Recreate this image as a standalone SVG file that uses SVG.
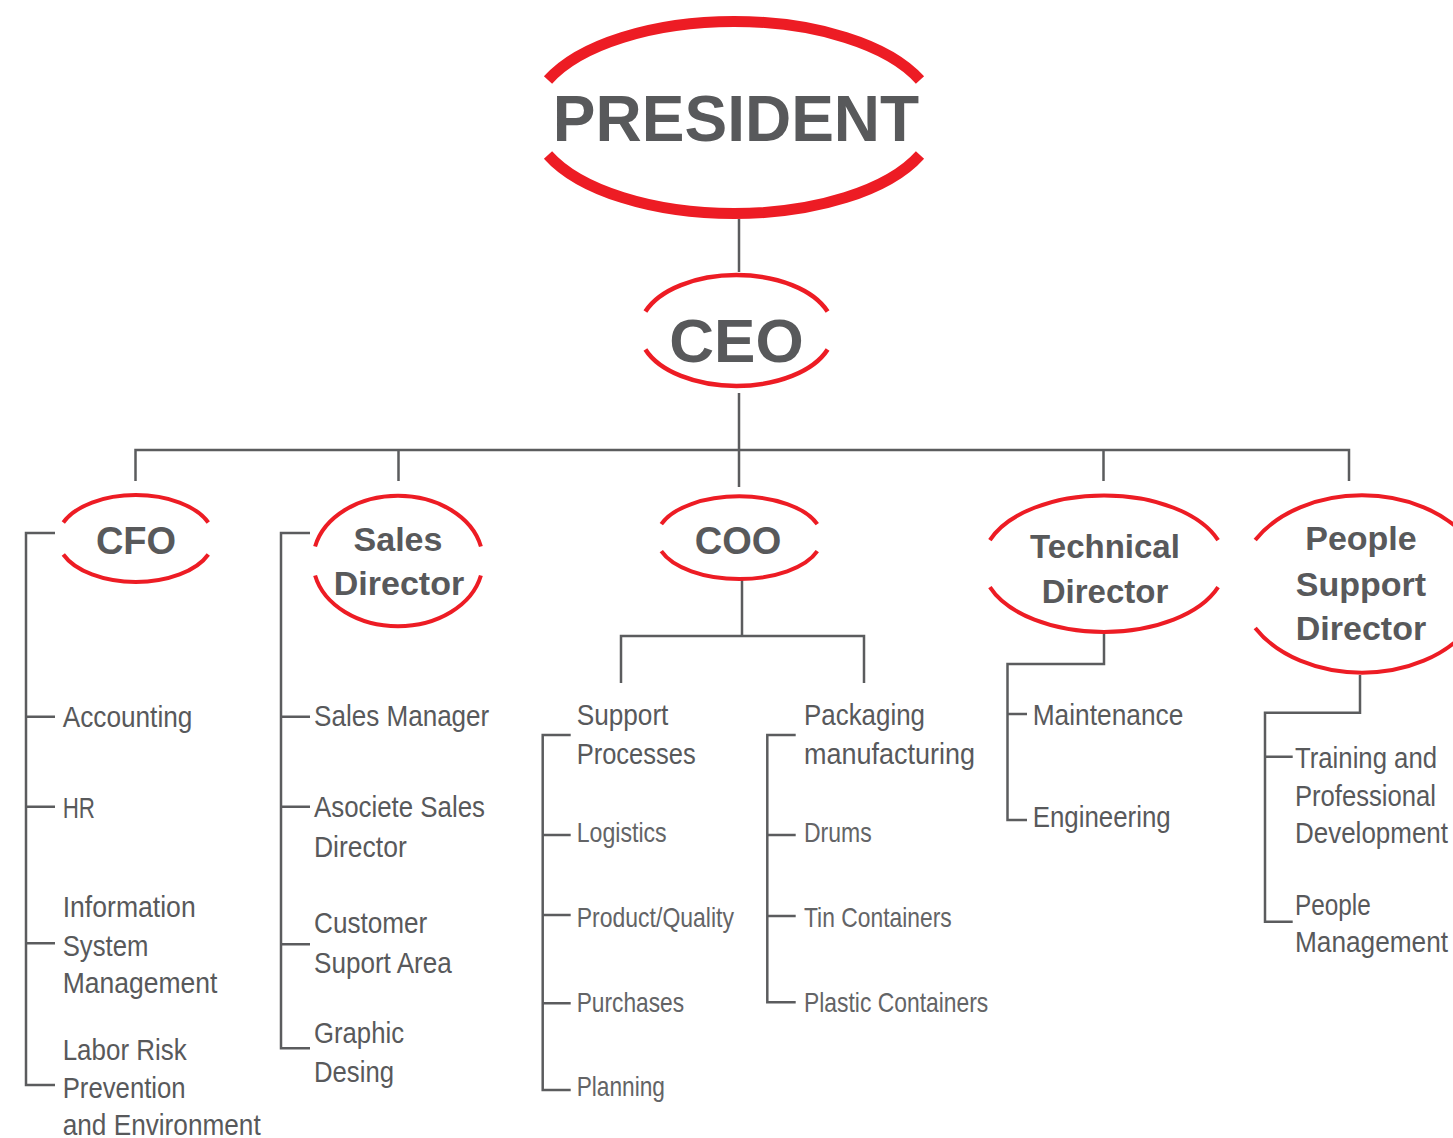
<svg xmlns="http://www.w3.org/2000/svg" width="1453" height="1138" viewBox="0 0 1453 1138">
<style>
.arc{fill:none;stroke:#ed1c24;stroke-linecap:butt}
.ln{fill:none;stroke:#5b5c5e;stroke-width:2.5}
.t{font-family:"Liberation Sans",Arial,sans-serif;font-weight:bold;fill:#58595b;text-anchor:middle}
.l{font-family:"Liberation Sans",Arial,sans-serif;font-size:30px;fill:#58595b}
.s{font-family:"Liberation Sans",Arial,sans-serif;font-size:28px;fill:#636466}
</style>
<rect width="1453" height="1138" fill="#ffffff"/>
<g id="connectors">
<path class="ln" d="M739,219 V272 M739,393 V487 M135.5,481 V450 H1349 V481 M398.5,450 V481 M1103.5,450 V481"/>
<path class="ln" d="M742,580 V636 M621,683 V636 H864 V683"/>
<path class="ln" d="M55,533 H26 V1085 H55 M26,716.7 H55 M26,806.7 H55 M26,943.3 H55"/>
<path class="ln" d="M310,533 H281 V1048.3 H310 M281,716.7 H310 M281,806.7 H310 M281,944.3 H310"/>
<path class="ln" d="M570.7,735 H542.7 V1090 H570.7 M542.7,835 H570.7 M542.7,915 H570.7 M542.7,1003.3 H570.7"/>
<path class="ln" d="M795.7,735 H767.3 V1002.3 H795.7 M767.3,835 H795.7 M767.3,916 H795.7"/>
<path class="ln" d="M1104,634 V664 H1007.5 V820 H1027 M1007.5,714 H1027"/>
<path class="ln" d="M1360,675 V712.7 H1265 V921.7 H1292.7 M1265,756.7 H1292.7"/>
</g>
<g id="president">
<path class="arc" stroke-width="11" d="M548,80 A202,96 0 0 1 920,80 M548,155 A202,96 0 0 0 920,155"/>
<text class="t" x="736" y="140.7" font-size="64">PRESIDENT</text>
</g>
<g id="ceo">
<path class="arc" stroke-width="4.5" d="M645.4,311.5 A97,55.5 0 0 1 827.6,311.5 M645.4,349.5 A97,55.5 0 0 0 827.6,349.5"/>
<text class="t" x="736.5" y="361.5" font-size="62">CEO</text>
</g>
<g id="cfo">
<path class="arc" stroke-width="4" d="M63.3,522.5 A78,43.5 0 0 1 208.3,522.5 M63.3,554.5 A78,43.5 0 0 0 208.3,554.5"/>
<text class="t" x="136" y="554" font-size="38">CFO</text>
</g>
<g id="sales-director">
<path class="arc" stroke-width="4" d="M315.1,546.5 A85,65 0 0 1 480.9,546.5 M315.1,575.5 A85,65 0 0 0 480.9,575.5"/>
<text class="t" x="398" y="550.7" font-size="34">Sales</text>
<text class="t" x="399" y="595" font-size="34">Director</text>
</g>
<g id="coo">
<path class="arc" stroke-width="4" d="M661.3,524.2 A82.5,41.3 0 0 1 817.3,524.2 M661.3,551.2 A82.5,41.3 0 0 0 817.3,551.2"/>
<text class="t" x="738" y="554" font-size="38">COO</text>
</g>
<g id="technical-director">
<path class="arc" stroke-width="4" d="M989.9,540.2 A121.5,68.2 0 0 1 1218.1,540.2 M989.9,587.2 A121.5,68.2 0 0 0 1218.1,587.2"/>
<text class="t" x="1105" y="557.7" font-size="33">Technical</text>
<text class="t" x="1105" y="603.3" font-size="33">Director</text>
</g>
<g id="people-support-director">
<path class="arc" stroke-width="4" d="M1255.2,540 A123,88.7 0 0 1 1468.8,540 M1255.2,628 A123,88.7 0 0 0 1468.8,628"/>
<text class="t" x="1361" y="550" font-size="34">People</text>
<text class="t" x="1361" y="596" font-size="34">Support</text>
<text class="t" x="1361" y="640" font-size="34">Director</text>
</g>
<g id="cfo-items">
<text class="l" x="62.7" y="726.7" textLength="129.7" lengthAdjust="spacingAndGlyphs">Accounting</text>
<text class="l" x="62.7" y="818.3" textLength="32.3" lengthAdjust="spacingAndGlyphs">HR</text>
<text class="l" x="62.7" y="916.7" textLength="133" lengthAdjust="spacingAndGlyphs">Information</text>
<text class="l" x="62.7" y="956" textLength="85.7" lengthAdjust="spacingAndGlyphs">System</text>
<text class="l" x="62.7" y="993.3" textLength="154.7" lengthAdjust="spacingAndGlyphs">Management</text>
<text class="l" x="62.7" y="1060" textLength="124" lengthAdjust="spacingAndGlyphs">Labor Risk</text>
<text class="l" x="62.7" y="1098.3" textLength="123" lengthAdjust="spacingAndGlyphs">Prevention</text>
<text class="l" x="62.7" y="1135" textLength="198" lengthAdjust="spacingAndGlyphs">and Environment</text>
</g>
<g id="sales-items">
<text class="l" x="314" y="725.7" textLength="175.3" lengthAdjust="spacingAndGlyphs">Sales Manager</text>
<text class="l" x="314" y="817.3" textLength="171" lengthAdjust="spacingAndGlyphs">Asociete Sales</text>
<text class="l" x="314" y="856.7" textLength="92.7" lengthAdjust="spacingAndGlyphs">Director</text>
<text class="l" x="314" y="933.3" textLength="113.3" lengthAdjust="spacingAndGlyphs">Customer</text>
<text class="l" x="314" y="972.7" textLength="137.7" lengthAdjust="spacingAndGlyphs">Suport Area</text>
<text class="l" x="314" y="1043.3" textLength="90" lengthAdjust="spacingAndGlyphs">Graphic</text>
<text class="l" x="314" y="1081.7" textLength="80" lengthAdjust="spacingAndGlyphs">Desing</text>
</g>
<g id="support-processes">
<text class="l" x="576.7" y="725" textLength="91.7" lengthAdjust="spacingAndGlyphs">Support</text>
<text class="l" x="576.7" y="764" textLength="119" lengthAdjust="spacingAndGlyphs">Processes</text>
<text class="s" x="576.7" y="841.7" textLength="90" lengthAdjust="spacingAndGlyphs">Logistics</text>
<text class="s" x="576.7" y="926.7" textLength="157.3" lengthAdjust="spacingAndGlyphs">Product/Quality</text>
<text class="s" x="576.7" y="1011.7" textLength="107.3" lengthAdjust="spacingAndGlyphs">Purchases</text>
<text class="s" x="576.7" y="1096" textLength="88.3" lengthAdjust="spacingAndGlyphs">Planning</text>
</g>
<g id="packaging-manufacturing">
<text class="l" x="804" y="725" textLength="121" lengthAdjust="spacingAndGlyphs">Packaging</text>
<text class="l" x="804" y="764" textLength="171" lengthAdjust="spacingAndGlyphs">manufacturing</text>
<text class="s" x="804" y="841.7" textLength="67.7" lengthAdjust="spacingAndGlyphs">Drums</text>
<text class="s" x="804" y="926.7" textLength="147.7" lengthAdjust="spacingAndGlyphs">Tin Containers</text>
<text class="s" x="804" y="1011.7" textLength="184.3" lengthAdjust="spacingAndGlyphs">Plastic Containers</text>
</g>
<g id="technical-items">
<text class="l" x="1032.7" y="725" textLength="150.7" lengthAdjust="spacingAndGlyphs">Maintenance</text>
<text class="l" x="1032.7" y="826.7" textLength="138" lengthAdjust="spacingAndGlyphs">Engineering</text>
</g>
<g id="people-items">
<text class="l" x="1295" y="768.3" textLength="142" lengthAdjust="spacingAndGlyphs">Training and</text>
<text class="l" x="1295" y="806" textLength="141" lengthAdjust="spacingAndGlyphs">Professional</text>
<text class="l" x="1295" y="843.3" textLength="153" lengthAdjust="spacingAndGlyphs">Development</text>
<text class="l" x="1295" y="915" textLength="75.7" lengthAdjust="spacingAndGlyphs">People</text>
<text class="l" x="1295" y="951.7" textLength="153" lengthAdjust="spacingAndGlyphs">Management</text>
</g>
</svg>
